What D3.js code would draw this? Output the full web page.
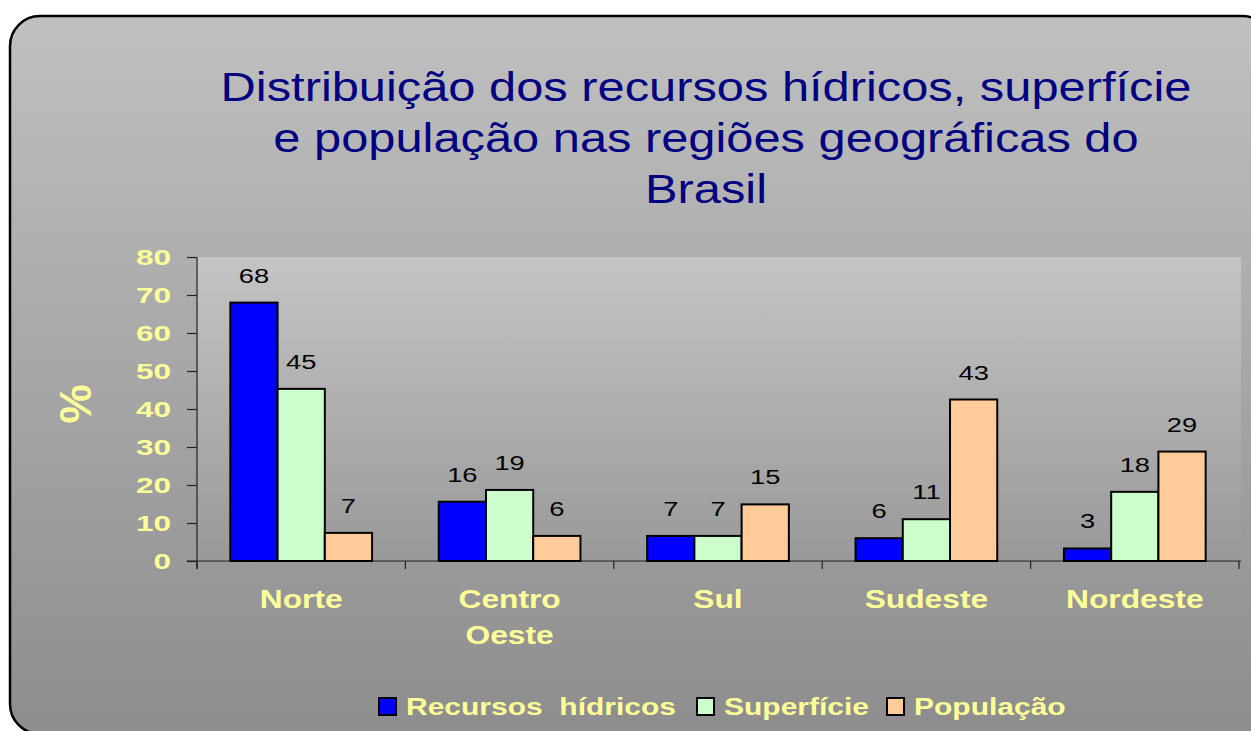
<!DOCTYPE html>
<html lang="pt">
<head>
<meta charset="utf-8">
<title>Distribuição dos recursos hídricos</title>
<script src="https://cdnjs.cloudflare.com/ajax/libs/d3/7.8.5/d3.min.js"></script>
<style>
  body { margin: 0; background: #fff; }
  svg { display: block; font-family: "Liberation Sans", Arial, sans-serif; }
</style>
</head>
<body>
<svg id="chart" width="1251" height="731"></svg>
<script>
// data
var regioes = [["Norte"], ["Centro", "Oeste"], ["Sul"], ["Sudeste"], ["Nordeste"]];
var series = ["Recursos  hídricos", "Superfície", "População"];
var recursos = [68.0, 15.6, 6.6, 6.0, 3.3];
var superficie = [45.3, 18.7, 6.6, 11.0, 18.2];
var populacao = [7.4, 6.6, 14.9, 42.5, 28.8];
var rotRecursos = ["68", "16", "7", "6", "3"];
var rotSuperficie = ["45", "19", "7", "11", "18"];
var rotPopulacao = ["7", "6", "15", "43", "29"];
var yTicks = [0, 10, 20, 30, 40, 50, 60, 70, 80];
var titulo = ["Distribuição dos recursos hídricos, superfície",
              "e população nas regiões geográficas do",
              "Brasil"];

var cores = ["#0000ff", "#ccffcc", "#ffcc99"];
var amarelo = "#ffff99";
var valores = [recursos, superficie, populacao];
var rotulos = [rotRecursos, rotSuperficie, rotPopulacao];

var svg = d3.select("#chart");
var defs = svg.append("defs");

var g1 = defs.append("linearGradient").attr("id", "fundo")
    .attr("x1", 0).attr("y1", 0).attr("x2", 0).attr("y2", 1);
g1.append("stop").attr("offset", 0).attr("stop-color", "#c0c0c0");
g1.append("stop").attr("offset", 1).attr("stop-color", "#8d8d8d");

var g2 = defs.append("linearGradient").attr("id", "plotfundo")
    .attr("x1", 0).attr("y1", 0).attr("x2", 0).attr("y2", 1);
g2.append("stop").attr("offset", 0).attr("stop-color", "#c4c4c4");
g2.append("stop").attr("offset", 1).attr("stop-color", "#999999");

// rounded background panel
svg.append("rect")
    .attr("x", 10).attr("y", 16).attr("width", 1262).attr("height", 718)
    .attr("rx", 30).attr("ry", 30)
    .attr("fill", "url(#fundo)").attr("stroke", "#000").attr("stroke-width", 2.5);

// helper: text stretched horizontally
function texto(parent, x, y, s, sx, anchor) {
  return parent.append("g")
      .attr("transform", "translate(" + x + "," + y + ") scale(" + sx + ",1)")
    .append("text")
      .attr("text-anchor", anchor || "middle")
      .text(s);
}

// title
titulo.forEach(function(t, i) {
  texto(svg, 706, 101 + i * 51, t, 1.22)
      .attr("font-size", 40).attr("fill", "#000080");
});

var pLeft = 197, pRight = 1239, pTop = 257, pBottom = 561;

var x0 = d3.scaleBand()
    .domain(d3.range(regioes.length))
    .range([pLeft, pRight])
    .paddingInner(0.32).paddingOuter(0.16);

var x1 = d3.scaleBand()
    .domain(d3.range(series.length))
    .range([0, x0.bandwidth()]);

var y = d3.scaleLinear().domain([0, 80]).range([pBottom, pTop]);

// plot area
svg.append("rect")
    .attr("x", pLeft).attr("y", pTop)
    .attr("width", pRight + 2 - pLeft).attr("height", pBottom - pTop)
    .attr("fill", "url(#plotfundo)");

// y axis
var yAxis = svg.append("g")
    .attr("transform", "translate(" + pLeft + ",0)")
    .call(d3.axisLeft(y).tickValues(yTicks).tickSize(10).tickFormat(""));
yAxis.select(".domain").remove();
yAxis.selectAll(".tick line").attr("stroke", "#222").attr("stroke-width", 1.2);
svg.append("line")
    .attr("x1", pLeft).attr("x2", pLeft).attr("y1", pTop).attr("y2", pBottom + 8)
    .attr("stroke", "#222").attr("stroke-width", 1.2);

yTicks.forEach(function(v) {
  texto(svg, 171, y(v) + 8, v, 1.4, "end")
      .attr("font-size", 22.5).attr("font-weight", "bold").attr("fill", amarelo);
});

// "%" label
svg.append("text")
    .attr("transform", "translate(91,404) rotate(-90)")
    .attr("text-anchor", "middle")
    .attr("font-size", 44).attr("font-weight", "bold").attr("fill", amarelo)
    .text("%");

// x axis line and category boundary ticks
svg.append("line")
    .attr("x1", pLeft - 10).attr("x2", pRight + 2).attr("y1", pBottom).attr("y2", pBottom)
    .attr("stroke", "#222").attr("stroke-width", 1.2);
d3.range(regioes.length + 1).forEach(function(i) {
  var xt = pLeft + i * x0.step();
  svg.append("line")
      .attr("x1", xt).attr("x2", xt).attr("y1", pBottom).attr("y2", pBottom + 8)
      .attr("stroke", "#222").attr("stroke-width", 1.2);
});

// bars
var grupos = svg.selectAll("g.grupo")
    .data(regioes)
    .enter().append("g")
    .attr("class", "grupo")
    .attr("transform", function(d, i) { return "translate(" + x0(i) + ",0)"; });

grupos.each(function(d, i) {
  var g = d3.select(this);
  series.forEach(function(s, j) {
    var v = valores[j][i];
    g.append("rect")
        .attr("x", x1(j)).attr("y", y(v))
        .attr("width", x1.bandwidth()).attr("height", y(0) - y(v))
        .attr("fill", cores[j]).attr("stroke", "#000").attr("stroke-width", 2);
    texto(g, x1(j) + x1.bandwidth() / 2, y(v) - 20, rotulos[j][i], 1.3)
        .attr("font-size", 21).attr("fill", "#000");
  });
  d.forEach(function(linha, k) {
    texto(g, x0.bandwidth() / 2, 608 + k * 36, linha, 1.27)
        .attr("font-size", 25).attr("font-weight", "bold").attr("fill", amarelo);
  });
});

// legend
var legX = [379, 697, 887];
series.forEach(function(s, j) {
  svg.append("rect")
      .attr("x", legX[j]).attr("y", 698).attr("width", 17).attr("height", 17)
      .attr("fill", cores[j]).attr("stroke", "#000").attr("stroke-width", 2);
  texto(svg, legX[j] + 27, 715, s, 1.25, "start")
      .attr("font-size", 24).attr("font-weight", "bold").attr("fill", amarelo)
      .attr("xml:space", "preserve").style("white-space", "pre");
});
</script>
</body>
</html>
